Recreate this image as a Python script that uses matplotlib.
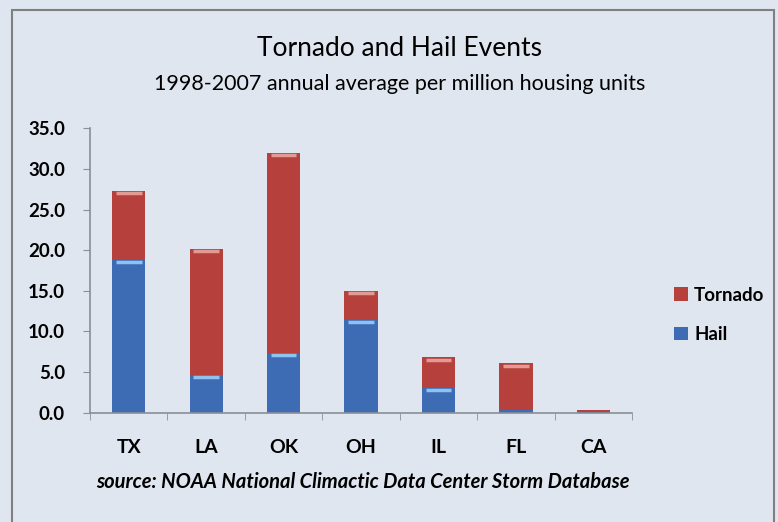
import matplotlib.pyplot as plt
import numpy as np

# annual average events per million housing units, 1998-2007
states = ['TX', 'LA', 'OK', 'OH', 'IL', 'FL', 'CA']
hail = [18.8, 4.6, 7.4, 11.4, 3.1, 0.3, 0.05]
tornado = [8.5, 15.6, 24.6, 3.6, 3.7, 5.8, 0.3]
yticks = [0, 5, 10, 15, 20, 25, 30, 35]

bg = '#dfe6f0'
red = '#b5403c'
blue = '#3d6cb5'
font = 'Lato'

fig = plt.figure(figsize=(7.78, 5.22), dpi=100, facecolor=bg)
ax = fig.add_axes([0.1157, 0.2094, 0.6967, 0.5448])
ax.set_facecolor(bg)

x = np.arange(len(states))
w = 0.43
ax.bar(x, hail, w, color=blue, label='Hail', zorder=2)
ax.bar(x, tornado, w, bottom=hail, color=red, label='Tornado', zorder=2)

# light band on the top of each segment
for xi, h, t in zip(x, hail, tornado):
    if h > 1:
        ax.plot([xi - w / 2 + 0.05, xi + w / 2 - 0.05], [h - 0.25, h - 0.25],
                color='#8ec3f0', lw=2.5, solid_capstyle='butt', zorder=3)
    if t > 1:
        ax.plot([xi - w / 2 + 0.05, xi + w / 2 - 0.05], [h + t - 0.3, h + t - 0.3],
                color='#e39a92', lw=2.5, solid_capstyle='butt', zorder=3)

ax.set_xlim(-0.5, len(states) - 0.5)
ax.set_ylim(0, 35)
ax.set_yticks(yticks)
ax.set_yticklabels([f'{v:.1f}' for v in yticks], fontfamily=font,
                   fontsize=13.5, fontweight='bold')
ax.set_xticks(x)
ax.set_xticklabels(states, fontfamily=font, fontsize=14, fontweight='bold')
ax.set_xticks(np.arange(len(states) + 1) - 0.5, minor=True)
ax.tick_params(axis='x', which='major', length=0, pad=19)
ax.tick_params(axis='x', which='minor', length=5, color='#8a8f96')
ax.tick_params(axis='y', length=5, color='#8a8f96', pad=13)

for s in ['top', 'right']:
    ax.spines[s].set_visible(False)
for s in ['left', 'bottom']:
    ax.spines[s].set_color('#8a8f96')
    ax.spines[s].set_linewidth(1.2)

handles, labels = ax.get_legend_handles_labels()
leg = fig.legend(handles[::-1], labels[::-1], loc='center left',
                 bbox_to_anchor=(0.844, 0.397), frameon=False,
                 handlelength=0.75, handleheight=0.75, handletextpad=0.35,
                 labelspacing=1.2, prop={'family': font, 'size': 13.5, 'weight': 'bold'})

fig.text(0.514, 0.908, 'Tornado and Hail Events', ha='center', va='center',
         fontfamily=font, fontsize=19)
fig.text(0.514, 0.84, '1998-2007 annual average per million housing units',
         ha='center', va='center', fontfamily=font, fontsize=15.5)
fig.text(0.466, 0.077, 'source: NOAA National Climactic Data Center Storm Database',
         ha='center', va='center', fontfamily=font, fontsize=14.5,
         style='italic', fontweight='bold')

# outer frame of the chart area
frame = plt.Rectangle((0.0155, -0.05), 0.98, 1.03, transform=fig.transFigure,
                      fill=False, edgecolor='#808080', lw=1.5)
fig.add_artist(frame)

fig.savefig('out.png', dpi=100, facecolor=bg)
